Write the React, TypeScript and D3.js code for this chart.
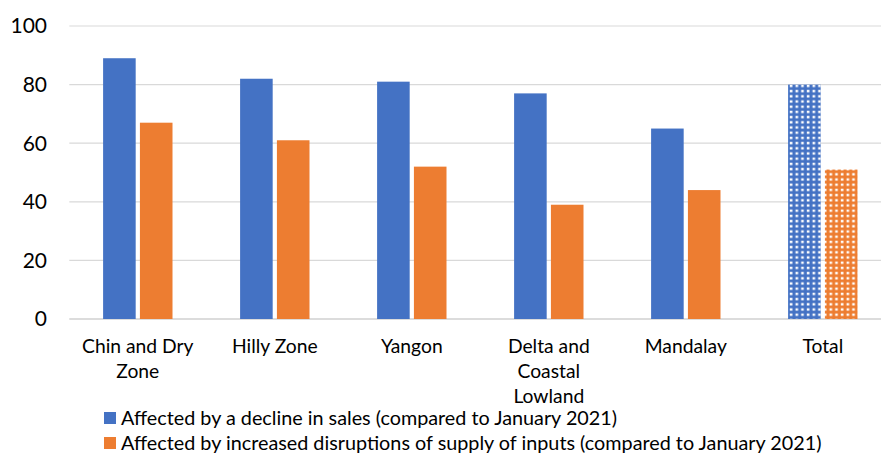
import React from 'react';
import * as d3 from 'd3';

const categories = ['Chin and Dry Zone', 'Hilly Zone', 'Yangon', 'Delta and Coastal Lowland', 'Mandalay', 'Total'];
const categoryLines = [['Chin and Dry', 'Zone'], ['Hilly Zone'], ['Yangon'], ['Delta and', 'Coastal', 'Lowland'], ['Mandalay'], ['Total']];
const salesDecline = [89, 82, 81, 77, 65, 80];
const supplyDisruption = [67, 61, 52, 39, 44, 51];
const yTicks = [0, 20, 40, 60, 80, 100];
const seriesNames = [
  'Affected by a decline in sales (compared to January 2021)',
  'Affected by increased disruptions of supply of inputs (compared to January 2021)',
];

const BLUE = '#4472c4';
const ORANGE = '#ed7d31';
const FONT = 'Lato, Calibri, sans-serif';

export default function App() {
  const width = 881;
  const height = 454;

  const x = d3.scaleBand<string>().domain(categories).range([69.3, 891.3]);
  const inner = d3.scaleBand<number>().domain([0, 1]).range([33.8, 137 - 33.8]).paddingInner(0.115);
  const y = d3.scaleLinear().domain([0, 100]).range([319, 26]);

  const series = [salesDecline, supplyDisruption];
  const colors = [BLUE, ORANGE];

  return (
    <svg width={width} height={height} style={{ position: 'absolute', left: 0, top: 0, background: '#fff' }}>
      <defs>
        {colors.map((c, i) => (
          <pattern key={i} id={`dots${i}`} patternUnits="userSpaceOnUse" width={5.67} height={5.2}>
            <rect width={5.67} height={5.2} fill={c} />
            <rect x={1.7} y={1.5} width={2.6} height={2.4} fill="#fff" />
          </pattern>
        ))}
      </defs>

      {yTicks.map(t => (
        <g key={t}>
          <line x1={69.3} x2={891} y1={y(t)} y2={y(t)} stroke={t === 0 ? '#d0d0d0' : '#d9d9d9'} strokeWidth={t === 0 ? 1.5 : 1.2} />
          <text x={47} y={y(t)} dy="0.35em" textAnchor="end" fontFamily={FONT} fontSize={21} fill="#000">{t}</text>
        </g>
      ))}

      {categories.map((cat, ci) =>
        series.map((s, si) => {
          const isTotal = cat === 'Total';
          const bx = (x(cat) ?? 0) + (inner(si) ?? 0);
          return (
            <rect
              key={`${cat}-${si}`}
              x={bx}
              y={y(s[ci])}
              width={inner.bandwidth()}
              height={y(0) - y(s[ci])}
              fill={isTotal ? `url(#dots${si})` : colors[si]}
            />
          );
        })
      )}

      {categories.map((cat, ci) => (
        <text key={cat} textAnchor="middle" fontFamily={FONT} fontSize={19.3} fill="#000">
          {categoryLines[ci].map((line, li) => (
            <tspan key={li} x={(x(cat) ?? 0) + x.bandwidth() / 2} y={353 + li * 25}>{line}</tspan>
          ))}
        </text>
      ))}

      {seriesNames.map((name, i) => (
        <g key={name}>
          <rect x={104} y={412 + i * 25} width={12} height={12} fill={colors[i]} />
          <text x={121} y={418 + i * 25} dy="0.35em" fontFamily={FONT} fontSize={19.8} fill="#000">{name}</text>
        </g>
      ))}
    </svg>
  );
}
